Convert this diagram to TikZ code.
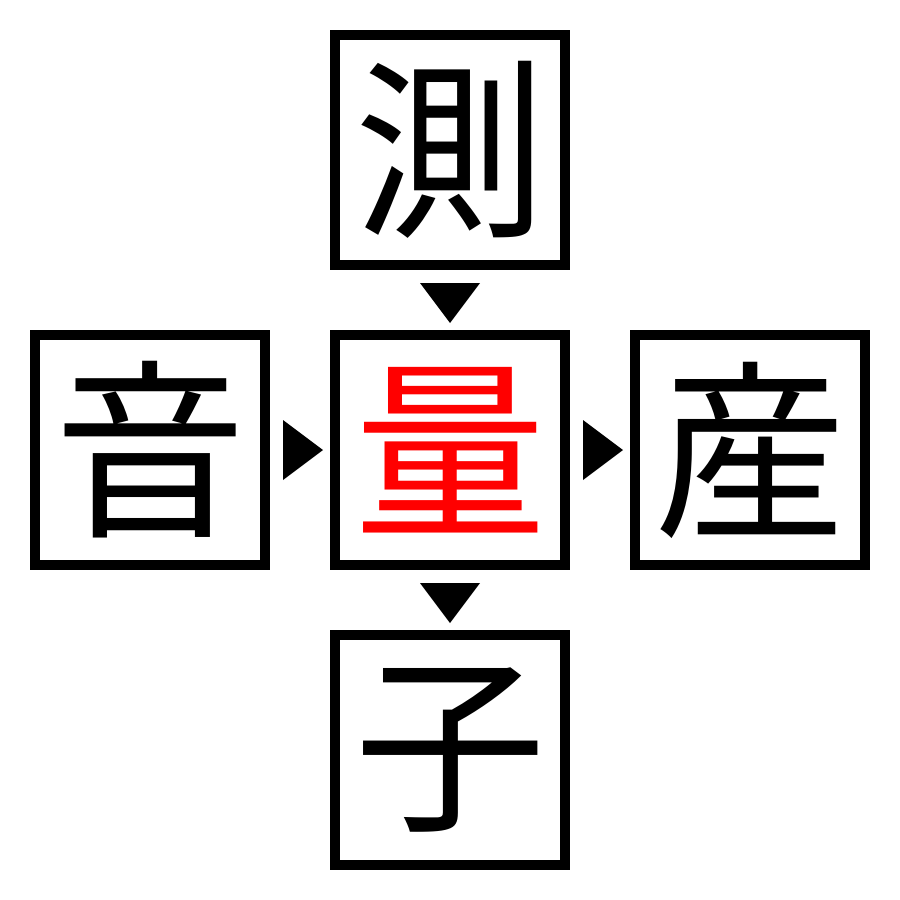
\documentclass[tikz,border=0pt]{standalone}
\usepackage{fontspec}
\newfontfamily\cjk{Noto Sans CJK JP}
\begin{document}
\begin{tikzpicture}[x=1pt,y=-1pt,
  cbox/.style={draw=black,line width=10pt,minimum size=230pt,inner sep=0pt,font=\cjk\fontsize{192}{192}\selectfont},
  tri/.style={fill=black}]
\useasboundingbox (0,0) rectangle (900,900);
\node[cbox] (top) at (450,150) {測};
\node[cbox] (left) at (150,450) {音};
\node[cbox,text=red] (center) at (450,450) {量};
\node[cbox] (right) at (750,450) {産};
\node[cbox] (bottom) at (450,750) {子};
\fill[tri] (420,283) -- (480,283) -- (450,323) -- cycle;
\fill[tri] (420,583) -- (480,583) -- (450,623) -- cycle;
\fill[tri] (283,420) -- (283,480) -- (323,450) -- cycle;
\fill[tri] (583,420) -- (583,480) -- (623,450) -- cycle;
\end{tikzpicture}
\end{document}
